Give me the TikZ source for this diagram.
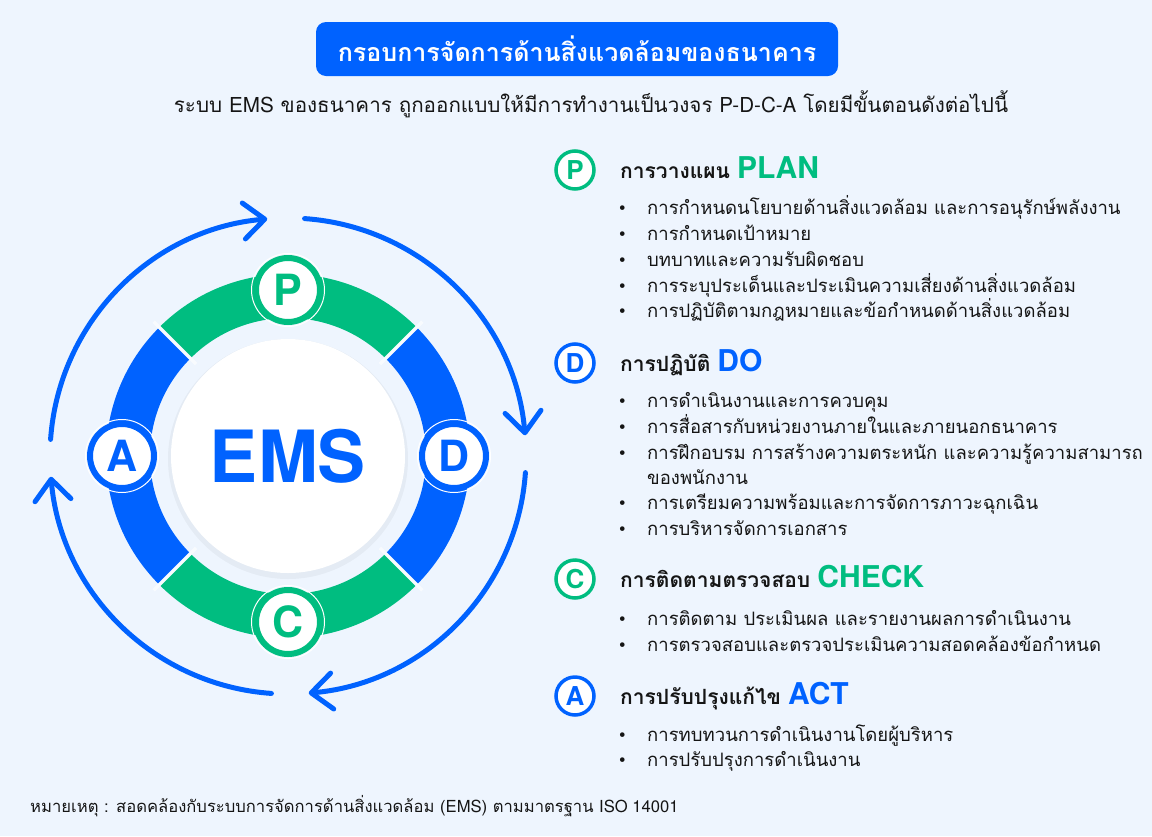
\documentclass[tikz,border=0pt]{standalone}
\usepackage{fontspec}
\setmainfont{Loma}[Script=Thai]
\newfontfamily\latfont{TeX Gyre Heros}
\usetikzlibrary{arrows.meta, positioning}
\definecolor{bgcol}{HTML}{EEF5FE}
\definecolor{emsblue}{HTML}{0062FF}
\definecolor{emsgreen}{HTML}{00BD80}
\definecolor{ink}{HTML}{151515}
\newcommand{\fs}[1]{\fontsize{#1}{#1}\selectfont}
\newcommand{\blt}{\makebox[28pt][l]{\latfont\textbullet}}

\begin{document}
\begin{tikzpicture}[x=1pt, y=1pt, text=ink,
  item/.style={anchor=base west, inner sep=0pt, font=\fs{18.5}},
  head/.style={anchor=base west, inner sep=0pt, font=\fs{21}\bfseries},
  badge/.style={circle, draw=#1, line width=3.5pt, fill=white, minimum size=38pt, inner sep=0pt, text=#1, font=\latfont\fs{26}\bfseries},
  ringbadge/.style={circle, draw=#1, line width=6pt, fill=white, minimum size=64pt, inner sep=0pt, text=#1, font=\latfont\fs{43}\bfseries},
  cyc/.style={emsblue, line width=5pt, line cap=round, -{Straight Barb[length=21pt, width=36pt, round]}}]
\useasboundingbox (0,0) rectangle (1152,-836);
\fill[bgcol] (0,0) rectangle (1152,-836);

\node[fill=emsblue, rounded corners=10pt, minimum width=522pt, minimum height=54pt, text=white, font=\fs{25}\bfseries] (title) at (577,-49) {กรอบการจัดการด้านสิ่งแวดล้อมของธนาคาร};
\node[anchor=base, inner sep=0pt, font=\fs{20.6}] (sub) at (591,-112) {ระบบ {\latfont EMS} ของธนาคาร ถูกออกแบบให้มีการทำงานเป็นวงจร {\latfont P-D-C-A} โดยมีขั้นตอนดังต่อไปนี้};

\coordinate (ems) at (288,-456);
\draw[emsgreen, line width=44pt] ([shift={(45:160)}]ems) arc (45:135:160);
\draw[emsblue, line width=44pt] ([shift={(135:160)}]ems) arc (135:225:160);
\draw[emsgreen, line width=44pt] ([shift={(225:160)}]ems) arc (225:315:160);
\draw[emsblue, line width=44pt] ([shift={(315:160)}]ems) arc (315:405:160);
\foreach \a in {45,135,225,315}
  \draw[bgcol!40!white, line width=3.5pt] ([shift={(\a:130)}]ems) -- ([shift={(\a:190)}]ems);
\fill[black, opacity=0.04] ([yshift=-3pt]ems) circle (120);
\node[circle, fill=white, minimum size=234pt, text=emsblue, font=\latfont\fs{72}\bfseries] (core) at (ems) {EMS};

\node[ringbadge=emsgreen] (rp) at ([shift={(90:166)}]ems) {P};
\node[ringbadge=emsblue] (rd) at ([shift={(0:166)}]ems) {D};
\node[ringbadge=emsgreen] (rc) at ([shift={(270:166)}]ems) {C};
\node[ringbadge=emsblue] (ra) at ([shift={(180:166)}]ems) {A};
\foreach \n in {rp,rd,rc,ra}
  \draw[white, line width=1pt] (\n) circle (36.5);

\foreach \a in {0,90,180,270}
  \draw[cyc] ([shift={(\a+86:238)}]ems) arc (\a+86:\a+5:238);

\node[badge=emsgreen] (bp) at (575,-170) {P};
\node[head] (hp) at (620,-178) {การวางแผน {\latfont\fs{30}\color{emsgreen}PLAN}};
\node[item] (p1) at (619,-214) {\blt การกำหนดนโยบายด้านสิ่งแวดล้อม และการอนุรักษ์พลังงาน};
\node[item] (p2) at (619,-240) {\blt การกำหนดเป้าหมาย};
\node[item] (p3) at (619,-266) {\blt บทบาทและความรับผิดชอบ};
\node[item] (p4) at (619,-292) {\blt การระบุประเด็นและประเมินความเสี่ยงด้านสิ่งแวดล้อม};
\node[item] (p5) at (619,-317) {\blt การปฏิบัติตามกฎหมายและข้อกำหนดด้านสิ่งแวดล้อม};

\node[badge=emsblue] (bd) at (575,-363) {D};
\node[head] (hd) at (620,-371) {การปฏิบัติ {\latfont\fs{30}\color{emsblue}DO}};
\node[item] (d1) at (619,-407) {\blt การดำเนินงานและการควบคุม};
\node[item] (d2) at (619,-433) {\blt การสื่อสารกับหน่วยงานภายในและภายนอกธนาคาร};
\node[item] (d3) at (619,-459) {\blt การฝึกอบรม การสร้างความตระหนัก และความรู้ความสามารถ};
\node[item] (d3b) at (647,-484) {ของพนักงาน};
\node[item] (d4) at (619,-509) {\blt การเตรียมความพร้อมและการจัดการภาวะฉุกเฉิน};
\node[item] (d5) at (619,-535) {\blt การบริหารจัดการเอกสาร};

\node[badge=emsgreen] (bc) at (575,-579) {C};
\node[head] (hc) at (620,-587) {การติดตามตรวจสอบ {\latfont\fs{30}\color{emsgreen}CHECK}};
\node[item] (c1) at (619,-625) {\blt การติดตาม ประเมินผล และรายงานผลการดำเนินงาน};
\node[item] (c2) at (619,-651) {\blt การตรวจสอบและตรวจประเมินความสอดคล้องข้อกำหนด};

\node[badge=emsblue] (ba) at (575,-696) {A};
\node[head] (ha) at (620,-704) {การปรับปรุงแก้ไข {\latfont\fs{30}\color{emsblue}ACT}};
\node[item] (a1) at (619,-741) {\blt การทบทวนการดำเนินงานโดยผู้บริหาร};
\node[item] (a2) at (619,-766) {\blt การปรับปรุงการดำเนินงาน};

\node[anchor=base west, inner sep=0pt, font=\fs{16.6}] (note) at (30,-812) {หมายเหตุ : สอดคล้องกับระบบการจัดการด้านสิ่งแวดล้อม ({\latfont EMS}) ตามมาตรฐาน {\latfont ISO 14001}};
\end{tikzpicture}
\end{document}
